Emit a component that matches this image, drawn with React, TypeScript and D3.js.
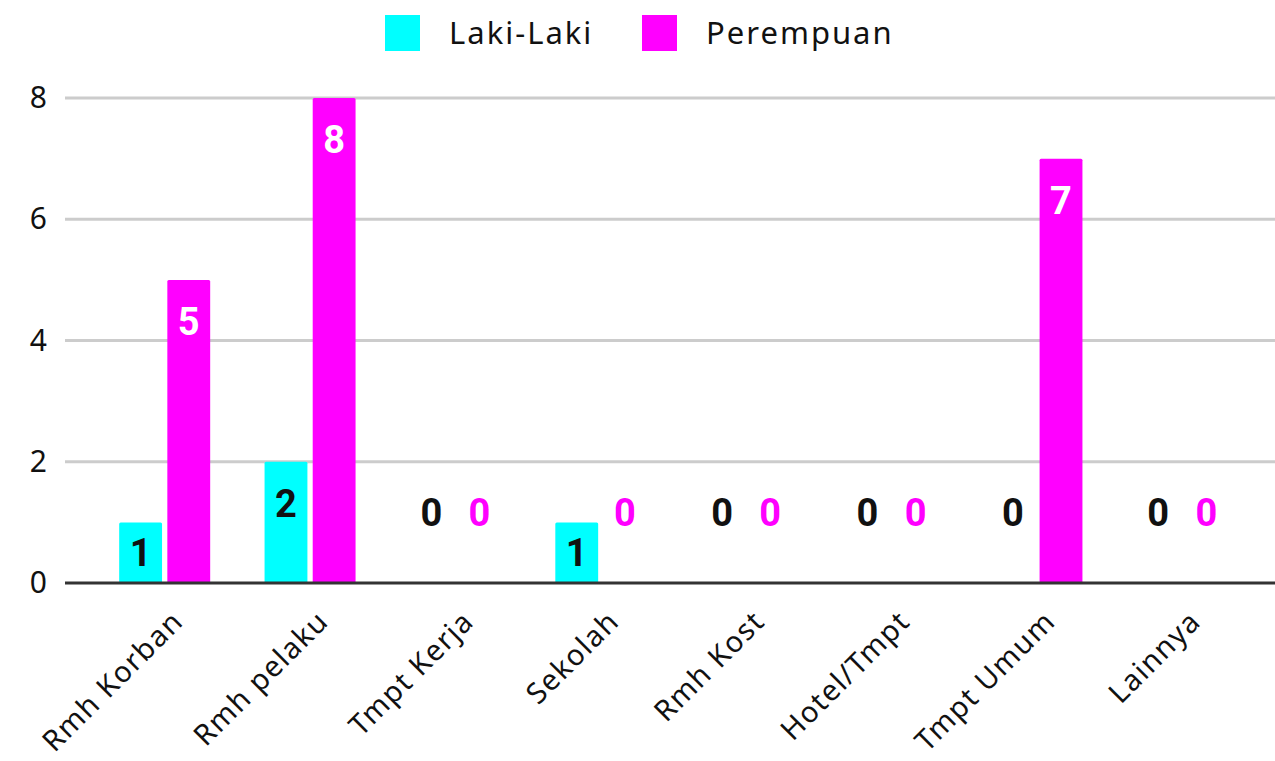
import { useEffect, useRef } from 'react';
import * as d3 from 'd3';

const categories = ['Rmh Korban', 'Rmh pelaku', 'Tmpt Kerja', 'Sekolah', 'Rmh Kost', 'Hotel/Tmpt', 'Tmpt Umum', 'Lainnya'];
const seriesNames = ['Laki-Laki', 'Perempuan'];
const lakiLaki = [1, 2, 0, 1, 0, 0, 0, 0];
const perempuan = [5, 8, 0, 0, 0, 0, 7, 0];
const yTicks = [0, 2, 4, 6, 8];

const colors = ['#00ffff', '#ff00ff'];
const zeroColors = ['#111111', '#ff00ff'];
const insideColors = ['#111111', '#ffffff'];

export default function App() {
  const svgRef = useRef<SVGSVGElement>(null);
  const width = 1275;
  const height = 761;

  useEffect(() => {
    if (!svgRef.current) return;
    const svg = d3.select(svgRef.current);
    svg.selectAll('*').remove();

    const font = '"Noto Sans", "Open Sans", sans-serif';
    const plotLeft = 65;
    const plotRight = 1275;
    const yScale = d3.scaleLinear().domain([0, 8]).range([583, 98]);

    const x0 = d3.scaleBand<string>()
      .domain(categories)
      .range([92, 1255])
      .padding(0);

    const groupWidth = 91;
    const x1 = d3.scaleBand<string>()
      .domain(seriesNames)
      .range([0, groupWidth])
      .paddingInner(0.11);

    // gridlines
    svg.append('g')
      .selectAll('line')
      .data(yTicks.filter(d => d !== 0))
      .enter().append('line')
      .attr('x1', plotLeft)
      .attr('x2', plotRight)
      .attr('y1', d => yScale(d))
      .attr('y2', d => yScale(d))
      .attr('stroke', '#cccccc')
      .attr('stroke-width', 3);

    // y labels
    svg.append('g')
      .selectAll('text')
      .data(yTicks)
      .enter().append('text')
      .attr('x', 47)
      .attr('y', d => yScale(d))
      .attr('dy', '-0.05em')
      .attr('dominant-baseline', 'central')
      .attr('text-anchor', 'end')
      .attr('font-family', font)
      .attr('font-size', 30)
      .attr('fill', '#111')
      .text(d => d);

    const rows = categories.map((c, i) => ({ cat: c, values: [lakiLaki[i], perempuan[i]] }));

    const groups = svg.append('g')
      .selectAll('g')
      .data(rows)
      .enter().append('g')
      .attr('transform', d => `translate(${(x0(d.cat) || 0) + (x0.bandwidth() - groupWidth) / 2},0)`);

    groups.each(function (row) {
      const g = d3.select(this);
      row.values.forEach((v, si) => {
        const name = seriesNames[si];
        const bx = x1(name) || 0;
        const bw = x1.bandwidth();
        const cx = bx + bw / 2;
        if (v > 0) {
          const top = yScale(v);
          const bottom = yScale(0);
          g.append('rect')
            .attr('x', bx)
            .attr('y', top)
            .attr('width', bw)
            .attr('height', bottom - top)
            .attr('rx', 1.5)
            .attr('fill', colors[si]);
          g.append('text')
            .attr('x', cx)
            .attr('y', Math.min(top + 42, (top + bottom) / 2))
            .attr('dominant-baseline', 'central')
            .attr('text-anchor', 'middle')
            .attr('font-family', 'Roboto, "Liberation Sans", sans-serif')
            .attr('font-weight', 'bold')
            .attr('font-size', 38)
            .attr('fill', insideColors[si])
            .text(v);
        } else {
          g.append('text')
            .attr('x', cx)
            .attr('y', yScale(0) - 70)
            .attr('dominant-baseline', 'central')
            .attr('text-anchor', 'middle')
            .attr('font-family', 'Roboto, "Liberation Sans", sans-serif')
            .attr('font-weight', 'bold')
            .attr('font-size', 38)
            .attr('fill', zeroColors[si])
            .text(v);
        }
      });
    });

    // baseline
    svg.append('line')
      .attr('x1', plotLeft)
      .attr('x2', plotRight)
      .attr('y1', yScale(0))
      .attr('y2', yScale(0))
      .attr('stroke', '#333333')
      .attr('stroke-width', 3);

    // x labels
    svg.append('g')
      .selectAll('text')
      .data(categories)
      .enter().append('text')
      .attr('transform', d => `translate(${(x0(d) || 0) + x0.bandwidth() / 2 + 12},${615}) rotate(-45)`)
      .attr('text-anchor', 'end')
      .attr('dominant-baseline', 'central')
      .attr('font-family', font)
      .attr('font-size', 29)
      .attr('letter-spacing', 1.4)
      .attr('fill', '#111')
      .text(d => d);

    // legend
    const legendX = [385, 642];
    const legend = svg.append('g')
      .selectAll('g')
      .data(seriesNames)
      .enter().append('g')
      .attr('transform', (d, i) => `translate(${legendX[i]},15)`);
    legend.append('rect')
      .attr('width', 35)
      .attr('height', 36)
      .attr('fill', (d, i) => colors[i]);
    legend.append('text')
      .attr('x', 64)
      .attr('y', 17)
      .attr('dominant-baseline', 'central')
      .attr('font-family', font)
      .attr('font-size', 31)
      .attr('letter-spacing', 2)
      .attr('fill', '#111')
      .text(d => d);
  }, []);

  return (
    <svg
      ref={svgRef}
      width={width}
      height={height}
      style={{ position: 'absolute', left: 0, top: 0, background: '#fff' }}
    />
  );
}
